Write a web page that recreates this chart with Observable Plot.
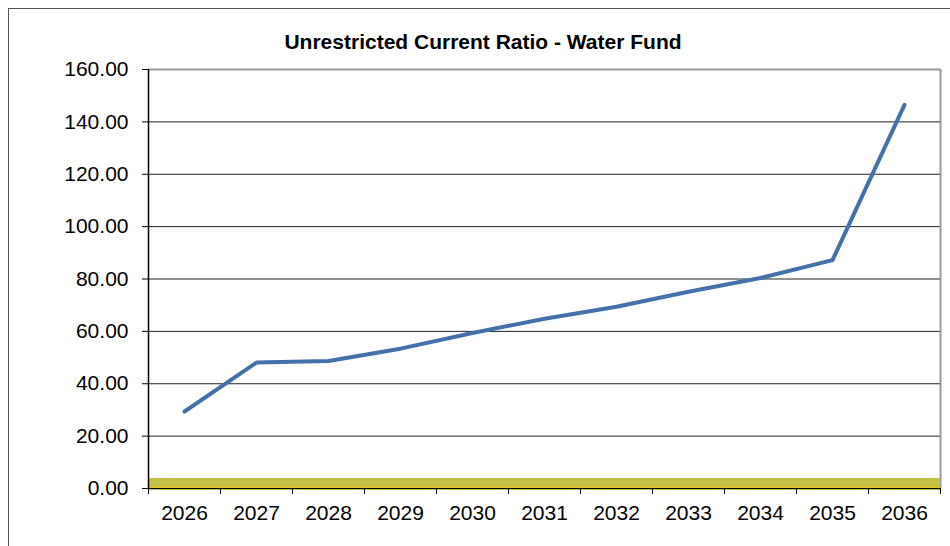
<!DOCTYPE html>
<html>
<head>
<meta charset="utf-8">
<script src="https://cdn.jsdelivr.net/npm/d3@7"></script>
<script src="https://cdn.jsdelivr.net/npm/@observablehq/plot@0.6"></script>
<style>
  html, body { margin: 0; padding: 0; background: #fff; }
  #wrap { position: relative; width: 950px; height: 546px; overflow: hidden; font-family: "Liberation Sans", Arial, sans-serif; }
  #frame { position: absolute; left: 8px; top: 8px; width: 958px; height: 560px; border: 1px solid #555; box-sizing: border-box; }
  #title { position: relative; height: 60px; box-sizing: border-box; padding-top: 31px; padding-left: 16px; font-weight: bold; font-size: 21px; line-height: 22px; text-align: center; color: #000; }
  #chart { position: relative; }
</style>
</head>
<body>
<div id="wrap">
  <div id="frame"></div>
  <div id="title">Unrestricted Current Ratio - Water Fund</div>
  <div id="chart"></div>
</div>
<script>
const years = [2026, 2027, 2028, 2029, 2030, 2031, 2032, 2033, 2034, 2035, 2036];
const ratios = [29.4, 48.1, 48.7, 53.4, 59.4, 64.8, 69.4, 75.1, 80.4, 87.2, 146.5];
const yTicks = [0, 20, 40, 60, 80, 100, 120, 140, 160];
const threshold = [1.7];

const data = years.map((y, i) => ({year: y, ratio: ratios[i]}));
const xMin = years[0] - 0.5, xMax = years[years.length - 1] + 0.5;
const bounds = d3.range(xMin, xMax + 0.01, 1);

const chart = Plot.plot({
  width: 950,
  height: 486,
  marginLeft: 148,
  marginRight: 10,
  marginTop: 9,
  marginBottom: 58,
  style: {fontFamily: "'Liberation Sans', Arial, sans-serif", color: "#000", background: "transparent", overflow: "visible"},
  x: {domain: [xMin, xMax], label: null},
  y: {domain: [0, 160], label: null},
  marks: [
    Plot.ruleY(yTicks.filter(v => v > 0 && v < 160), {stroke: "#222", strokeWidth: 1, strokeOpacity: 1}),
    Plot.ruleY([160], {stroke: "#999", strokeWidth: 2}),
    Plot.ruleX([xMax], {stroke: "#999", strokeWidth: 2}),
    Plot.ruleY(threshold, {stroke: "#c2bf45", strokeWidth: 12}),
    Plot.ruleY([0], {stroke: "#e8c228", strokeWidth: 1.5, dy: -1}),
    Plot.ruleY([0], {stroke: "#000", strokeWidth: 1}),
    Plot.ruleX([xMin], {stroke: "#000", strokeWidth: 1.5}),
    Plot.line(data, {x: "year", y: "ratio", stroke: "#4571ab", strokeWidth: 4, strokeLinejoin: "round", strokeLinecap: "round"}),
    Plot.axisY({ticks: yTicks, tickFormat: d => d.toFixed(2), tickSize: 6, tickPadding: 14, fontSize: 21, stroke: "#000", label: null}),
    Plot.axisX({ticks: years, tickFormat: d => String(d), tickSize: 0, tickPadding: 17, fontSize: 21, label: null}),
    Plot.axisX({ticks: bounds, tickFormat: () => "", tickSize: 6, stroke: "#000", label: null})
  ]
});
document.getElementById("chart").appendChild(chart);
</script>
</body>
</html>
